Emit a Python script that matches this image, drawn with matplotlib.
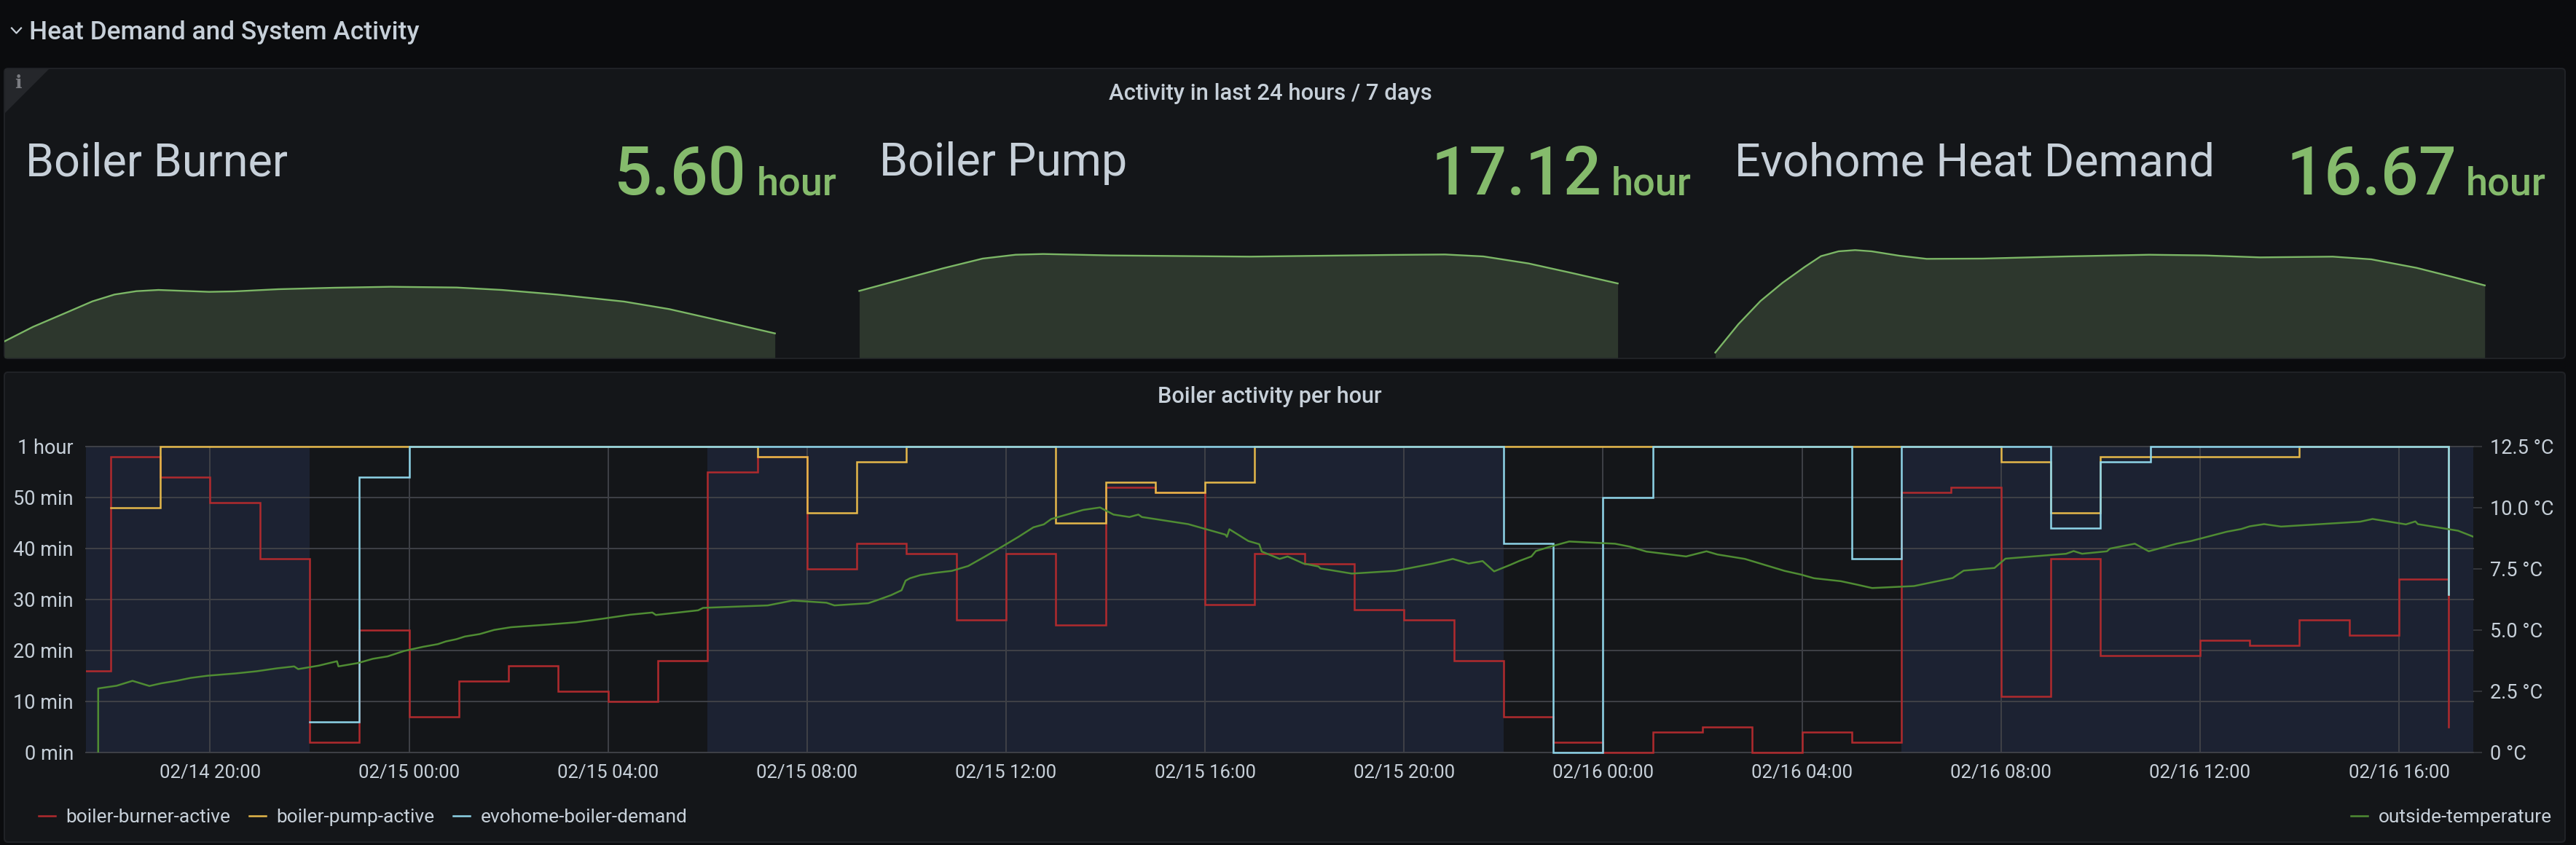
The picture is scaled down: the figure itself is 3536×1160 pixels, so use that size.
#!/usr/bin/python
# Grafana panel rebuilt in matplotlib: heat demand and system activity

from datetime import datetime, timedelta
import matplotlib
matplotlib.use("Agg")
import matplotlib.pyplot as plt
import matplotlib.dates as mdates
from matplotlib.patches import FancyBboxPatch, Polygon
from matplotlib.ticker import FuncFormatter, FixedLocator
from matplotlib.transforms import Bbox, TransformedBbox

WIDTH = 3536
HEIGHT = 1160

plt.rcParams['font.family'] = ['Roboto', 'DejaVu Sans']

# stat panels
stat_titles = ["Boiler Burner", "Boiler Pump", "Evohome Heat Demand"]
stat_values = ["5.60", "17.12", "16.67"]
stat_unit = "hour"

spark_burner_days = [0.00, 0.26, 0.57, 0.80, 1.00, 1.20, 1.40, 1.63, 1.86, 2.09,
                     2.49, 3.00, 3.51, 4.11, 4.52, 5.02, 5.63, 6.04, 6.44, 7.00]
spark_burner_hours = [3.75, 7.11, 10.47, 12.99, 14.56, 15.34, 15.62, 15.40, 15.18, 15.29,
                      15.79, 16.13, 16.35, 16.18, 15.62, 14.56, 12.94, 11.20, 8.90, 5.60]
spark_pump_days = [0.01, 0.42, 0.77, 1.13, 1.43, 1.68, 2.29, 3.05, 3.56, 4.06,
                   4.82, 5.33, 5.68, 6.09, 6.49, 6.90]
spark_pump_hours = [15.40, 18.20, 20.60, 22.85, 23.74, 23.91, 23.58, 23.41, 23.30, 23.46,
                    23.69, 23.80, 23.35, 21.73, 19.49, 17.12]
spark_demand_days = [0.03, 0.24, 0.44, 0.64, 0.84, 0.99, 1.15, 1.30, 1.45, 1.70, 1.95,
                     2.46, 3.22, 3.97, 4.48, 4.98, 5.64, 5.99, 6.40, 6.75, 7.02]
spark_demand_hours = [1.18, 7.73, 13.05, 17.25, 20.89, 23.41, 24.53, 24.81, 24.53, 23.52, 22.79,
                      22.85, 23.35, 23.74, 23.58, 23.13, 23.30, 22.68, 20.72, 18.48, 16.67]

# hourly series, hours counted from 02/14 00:00
burner_hours = list(range(17, 66))
burner_minutes = [16, 58, 54, 49, 38, 2, 24,
                  7, 14, 17, 12, 10, 18, 55, 58, 36, 41, 39, 26, 39, 25, 52, 51, 29,
                  39, 37, 28, 26, 18, 7, 2,
                  0, 4, 5, 0, 4, 2, 51, 52, 11, 38, 19, 19, 22, 21, 26, 23, 34, 5]
pump_hours = list(range(18, 66))
pump_minutes = [48, 60, 60, 60, 60, 60,
                60, 60, 60, 60, 60, 60, 60, 58, 47, 57, 60, 60, 60, 45, 53, 51, 53,
                60, 60, 60, 60, 60, 60, 60,
                60, 60, 60, 60, 60, 60, 60, 60, 57, 47, 58, 58, 58, 58, 60, 60, 60, 31]
demand_hours = list(range(22, 66))
demand_minutes = [6, 54,
                  60, 60, 60, 60, 60, 60, 60, 60, 60, 60, 60, 60, 60, 60, 60, 60, 60,
                  60, 60, 60, 60, 60, 41, 0,
                  50, 60, 60, 60, 60, 38, 60, 60, 60, 44, 57, 60, 60, 60, 60, 60, 60, 31]

temp_hours = [17.75, 17.75, 18.12, 18.44, 18.78, 19.02, 19.32, 19.61, 19.95, 20.50, 20.93,
              21.34, 21.69, 21.77, 22.18, 22.55, 22.58, 22.98, 23.27, 23.57, 23.90,
              24.28, 24.58, 24.74, 24.95, 25.12, 25.42, 25.71, 26.05, 26.80, 27.35,
              27.90, 28.44, 28.89, 28.96, 29.81, 29.91, 31.21, 31.71, 32.39, 32.55,
              33.23, 33.39, 33.69, 33.90, 33.98, 34.07, 34.28, 34.57, 34.91, 35.24,
              35.58, 35.92, 36.25, 36.55, 36.76, 36.91, 37.55, 37.89, 38.16, 38.48,
              38.66, 38.73, 39.66, 40.41, 40.44, 40.49, 40.87, 41.09, 41.14, 41.50,
              41.66, 41.98, 42.28, 42.32, 42.95, 43.82, 44.59, 44.98, 45.30, 45.58,
              45.81, 46.14, 46.31, 46.56, 46.65, 46.94, 47.32, 48.24, 48.54, 48.87,
              49.67, 50.08, 50.30, 50.85, 51.65, 51.98, 52.24, 52.78, 53.08, 53.41,
              54.25, 55.03, 55.25, 55.87, 56.09, 57.31, 57.46, 57.63, 58.13, 58.19,
              58.69, 58.97, 59.53, 59.82, 60.54, 60.83, 61.00, 61.29, 61.63, 63.22,
              63.47, 64.14, 64.33, 64.38, 65.19, 65.49]
temp_values = [0.00, 2.61, 2.72, 2.92, 2.71, 2.82, 2.92, 3.04, 3.13, 3.22, 3.31,
               3.43, 3.51, 3.40, 3.54, 3.72, 3.51, 3.65, 3.82, 3.92, 4.14,
               4.31, 4.42, 4.53, 4.62, 4.73, 4.83, 5.00, 5.11, 5.22, 5.31,
               5.46, 5.62, 5.71, 5.61, 5.80, 5.90, 6.00, 6.20, 6.11, 6.00,
               6.09, 6.20, 6.42, 6.62, 7.01, 7.11, 7.24, 7.33, 7.41, 7.61,
               8.00, 8.40, 8.80, 9.19, 9.31, 9.53, 9.90, 10.00, 9.71, 9.61,
               9.71, 9.61, 9.32, 8.89, 8.80, 9.11, 8.63, 8.50, 8.20, 7.90,
               8.00, 7.71, 7.59, 7.51, 7.30, 7.41, 7.71, 7.90, 7.71, 7.81,
               7.39, 7.66, 7.81, 8.00, 8.22, 8.40, 8.61, 8.52, 8.40, 8.20,
               8.00, 8.21, 8.08, 7.90, 7.41, 7.26, 7.11, 6.99, 6.86, 6.71,
               6.79, 7.12, 7.42, 7.53, 7.91, 8.11, 8.22, 8.11, 8.21, 8.32,
               8.52, 8.21, 8.52, 8.63, 9.01, 9.12, 9.23, 9.32, 9.22, 9.42,
               9.53, 9.31, 9.43, 9.32, 9.05, 8.81]

# daytime bands and axis range, same hour count
band_starts = [17.5, 30, 54]
band_ends = [22, 46, 65.5]
range_hours = (17.5, 65.5)
minute_ticks = [0, 10, 20, 30, 40, 50, 60]
temp_ticks = [0, 2.5, 5.0, 7.5, 10.0, 12.5]
x_tick_hours = [20, 24, 28, 32, 36, 40, 44, 48, 52, 56, 60, 64]

BG = "#0b0c0e"
PANEL = "#141619"
BORDER = "#202226"
TEXT = "#c7d0d9"
TICK = "#c7d0d9"
GRID = "#3f4147"
GREEN_VALUE = "#85bb6c"
GREEN_LINE = "#7cb766"
GREEN_FILL = "#2d372d"
BAND = "#1c2232"
RED = "#b02a2e"
YELLOW = "#e5b84a"
BLUE = "#8ed4e8"
GREEN = "#4f8c33"
TICK_SIZE = 19.5
LINE_W = 1.8


def to_dates(hours):
    base = datetime(2021, 2, 14)
    return [base + timedelta(hours=h) for h in hours]


def add_axes_px(fig, left, top, right, bottom, **kwargs):
    return fig.add_axes([left / WIDTH, 1 - bottom / HEIGHT,
                         (right - left) / WIDTH, (bottom - top) / HEIGHT], **kwargs)


def loosen_clip(ax, line):
    # lines at 0 and 60 min keep their full width, the sides stay clipped
    line.set_clip_box(TransformedBbox(Bbox([[0, -0.01], [1, 1.01]]), ax.transAxes))


def draw_panels(fig):
    bg = add_axes_px(fig, 0, 0, WIDTH, HEIGHT)
    bg.set_xlim(0, WIDTH)
    bg.set_ylim(HEIGHT, 0)
    bg.axis("off")
    for (x0, y0, x1, y1) in [(6, 94, 3521, 492), (6, 511, 3521, 1156)]:
        bg.add_patch(FancyBboxPatch((x0, y0), x1 - x0, y1 - y0,
                                    boxstyle="round,pad=0,rounding_size=5",
                                    fc=PANEL, ec=BORDER, lw=1.5))
    bg.add_patch(Polygon([(7, 95), (67, 95), (7, 155)], fc="#25272b", ec="none"))
    bg.text(24.5, 114, "i", color="#7b7d82", fontsize=18, ha="center", va="center",
            family="DejaVu Serif", weight="bold")
    # row header
    bg.plot([16, 22.5, 29], [38.5, 45.5, 38.5], color=TEXT, lw=1.6)
    bg.text(40, 54, "Heat Demand and System Activity", color=TEXT, fontsize=25.4,
            ha="left", va="baseline", weight="medium")
    bg.text(1744, 137, "Activity in last 24 hours / 7 days", color=TEXT, fontsize=22.3,
            ha="center", va="baseline", weight="medium")
    bg.text(1743, 553, "Boiler activity per hour", color=TEXT, fontsize=22,
            ha="center", va="baseline", weight="medium")
    title_x = [35, 1207, 2381]
    value_right = [1025, 2198, 3372]
    unit_right = [1149, 2322, 3495]
    for i in range(3):
        bg.text(title_x[i], 241, stat_titles[i], color=TEXT, fontsize=45.3,
                ha="left", va="baseline")
        bg.text(value_right[i], 267, stat_values[i], color=GREEN_VALUE, fontsize=66,
                ha="right", va="baseline", weight="medium")
        bg.text(unit_right[i], 267, stat_unit, color=GREEN_VALUE, fontsize=39,
                ha="right", va="baseline", weight="medium")


def draw_spark(fig, left, right, days, hours):
    ax = add_axes_px(fig, left, 321, right, 491)
    ax.patch.set_alpha(0)
    ax.fill_between(days, hours, 0, color=GREEN_FILL, lw=0)
    ax.plot(days, hours, color=GREEN_LINE, lw=1.7)
    ax.set_xlim(0, (right - left) / 151.1)
    ax.set_ylim(0, 28.56)
    ax.axis("off")


def draw_activity(fig):
    ax = add_axes_px(fig, 117.7, 612.6, 3395.4, 1032.8)
    ax.patch.set_alpha(0)
    for start, end in zip(band_starts, band_ends):
        ax.axvspan(*mdates.date2num(to_dates([start, end])), color=BAND, lw=0, zorder=0)
    l1, = ax.plot(to_dates(burner_hours), burner_minutes, color=RED, lw=LINE_W,
                  drawstyle="steps-post", solid_joinstyle="miter", zorder=3,
                  label="boiler-burner-active")
    l2, = ax.plot(to_dates(pump_hours), pump_minutes, color=YELLOW, lw=LINE_W,
                  drawstyle="steps-post", solid_joinstyle="miter", zorder=3,
                  label="boiler-pump-active")
    l3, = ax.plot(to_dates(demand_hours), demand_minutes, color=BLUE, lw=LINE_W,
                  drawstyle="steps-post", solid_joinstyle="miter", zorder=3,
                  label="evohome-boiler-demand")
    for line in (l1, l2, l3):
        loosen_clip(ax, line)
    ax.set_xlim(*mdates.date2num(to_dates(range_hours)))
    ax.set_ylim(0, 60)
    ax.xaxis.set_major_locator(FixedLocator(mdates.date2num(to_dates(x_tick_hours))))
    ax.xaxis.set_major_formatter(mdates.DateFormatter("%m/%d %H:%M"))
    ax.yaxis.set_major_locator(FixedLocator(minute_ticks))
    ax.yaxis.set_major_formatter(FuncFormatter(
        lambda v, pos: "1 hour" if v >= 60 else "%d min" % v))
    ax.grid(True, color=GRID, lw=1.4, zorder=1, clip_on=False)
    ax.set_axisbelow(True)
    ax.tick_params(axis="both", length=0, colors=TICK, labelsize=TICK_SIZE)
    ax.tick_params(axis="x", pad=12, labelsize=18.5)
    ax.tick_params(axis="y", pad=12)
    for spine in ax.spines.values():
        spine.set_visible(False)

    ax2 = ax.twinx()
    ax2.patch.set_alpha(0)
    l4, = ax2.plot(to_dates(temp_hours), temp_values, color=GREEN, lw=LINE_W, zorder=4,
                   label="outside-temperature")
    ax2.set_ylim(0, 12.5)
    ax2.yaxis.set_major_locator(FixedLocator(temp_ticks))
    ax2.yaxis.set_major_formatter(FuncFormatter(
        lambda v, pos: "0 °C" if v == 0 else "%.1f °C" % v))
    ax2.tick_params(axis="y", length=8.5, width=1.2, colors=TICK,
                    labelsize=TICK_SIZE, pad=8)
    ax2.tick_params(axis="y", color="#3a3c40")
    for spine in ax2.spines.values():
        spine.set_visible(False)

    common = dict(frameon=False, fontsize=19, labelcolor=TICK, handlelength=0.87,
                  handletextpad=0.55, borderpad=0, borderaxespad=0)
    fig.legend(handles=[l1, l2, l3], loc="center left",
               bbox_to_anchor=(53 / WIDTH, 1 - 1122 / HEIGHT), ncol=3,
               columnspacing=0.97, **common)
    fig.legend(handles=[l4], loc="center right",
               bbox_to_anchor=(3503 / WIDTH, 1 - 1122 / HEIGHT), **common)


def main():
    fig = plt.figure(figsize=(WIDTH / 100, HEIGHT / 100), dpi=100, facecolor=BG)
    draw_panels(fig)
    draw_spark(fig, 6, 1178, spark_burner_days, spark_burner_hours)
    draw_spark(fig, 1178, 2350, spark_pump_days, spark_pump_hours)
    draw_spark(fig, 2350, 3521, spark_demand_days, spark_demand_hours)
    draw_activity(fig)
    fig.savefig("out.png", facecolor=BG)


if __name__ == "__main__":
    main()
